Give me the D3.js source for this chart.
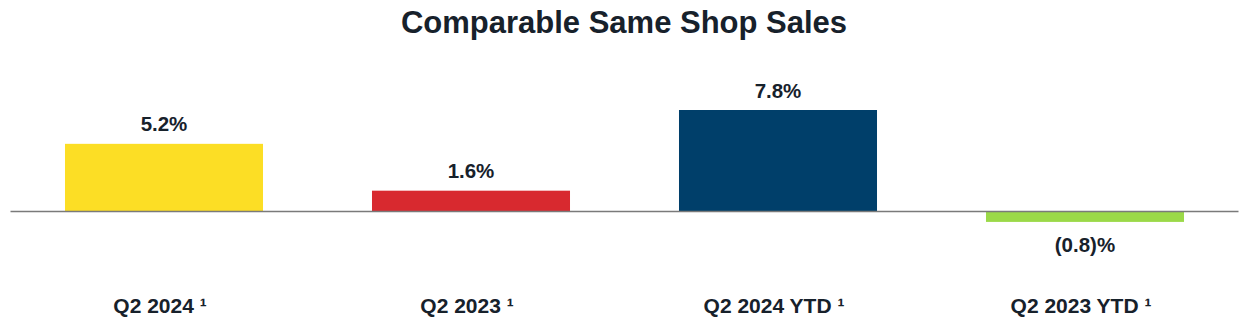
<!DOCTYPE html>
<html><head><meta charset="utf-8">
<script src="https://cdn.jsdelivr.net/npm/d3@7"></script>
<style>body{margin:0;background:#fff}svg{display:block}</style>
</head><body>
<svg id="c" width="1248" height="326"></svg>
<script>
const categories = ["Q2 2024 \u00B9", "Q2 2023 \u00B9", "Q2 2024 YTD \u00B9", "Q2 2023 YTD \u00B9"];
const values = [5.2, 1.6, 7.8, -0.8];
const valueLabels = ["5.2%", "1.6%", "7.8%", "(0.8)%"];
const colors = ["#FCDE25", "#D8292F", "#003F6A", "#9BD948"];
const title = "Comparable Same Shop Sales";

const svg = d3.select("#c");
const font = "'Liberation Sans', Arial, Helvetica, sans-serif";
const textColor = "#17212B";

const x = d3.scaleBand().domain(categories).range([10.5, 1238.5]).paddingInner(0.355).paddingOuter(0.1775);
const y = d3.scaleLinear().domain([0, 7.8]).range([211.5, 110]);

svg.append("text").attr("x", 624).attr("y", 33).attr("text-anchor", "middle")
  .attr("font-family", font).attr("font-weight", "bold").attr("font-size", 31)
  .attr("fill", textColor).text(title);

svg.selectAll("rect.bar").data(values).join("rect").attr("class", "bar")
  .attr("x", (d, i) => x(categories[i]))
  .attr("width", x.bandwidth())
  .attr("y", d => Math.min(y(d), y(0)))
  .attr("height", d => Math.abs(y(d) - y(0)))
  .attr("fill", (d, i) => colors[i]);

svg.append("line").attr("x1", 10.5).attr("x2", 1238.5).attr("y1", y(0)).attr("y2", y(0))
  .attr("stroke", "#7a7a7a").attr("stroke-width", 1.5);

svg.selectAll("text.val").data(values).join("text").attr("class", "val")
  .attr("x", (d, i) => x(categories[i]) + x.bandwidth() / 2)
  .attr("y", d => d >= 0 ? y(d) - 12.5 : y(d) + 30)
  .attr("text-anchor", "middle").attr("font-family", font).attr("font-weight", "bold")
  .attr("font-size", 20.5).attr("fill", textColor)
  .text((d, i) => valueLabels[i]);

svg.selectAll("text.cat").data(categories).join("text").attr("class", "cat")
  .attr("x", d => x(d) + x.bandwidth() / 2 - 4)
  .attr("y", 313)
  .attr("text-anchor", "middle").attr("font-family", font).attr("font-weight", "bold")
  .attr("font-size", 21).attr("fill", textColor)
  .text(d => d);
</script>
</body></html>
